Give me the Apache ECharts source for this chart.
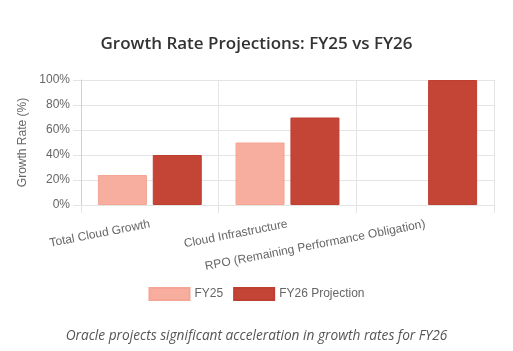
<!DOCTYPE html>
<html>
<head>
<meta charset="utf-8">
<script src="https://cdn.jsdelivr.net/npm/echarts@6/dist/echarts.min.js"></script>
<style>
	html, body { margin: 0; padding: 0; background: #fff; }
	#chart { width: 513px; height: 351px; }
</style>
</head>
<body>
<div id="chart"></div>
<script>
	// data
	var categories = ['Total Cloud Growth', 'Cloud Infrastructure', 'RPO (Remaining Performance Obligation)'];
	var fy25 = [24, 50, null];
	var fy26 = [40, 70, 100];
	var seriesNames = ['FY25', 'FY26 Projection'];

	var chart = echarts.init(document.getElementById('chart'));
	var gridColor = '#e4e4e4';
	var textColor = '#666';

	chart.setOption({
		animation: false,
		backgroundColor: '#fff',
		title: [{
			text: 'Growth Rate Projections: FY25 vs FY26',
			left: 'center',
			top: 31,
			textStyle: { fontFamily: 'Open Sans', fontSize: 17, fontWeight: 600, color: '#333' }
		}, {
			text: 'Oracle projects significant acceleration in growth rates for FY26',
			left: 'center',
			top: 324,
			textStyle: { fontFamily: 'Open Sans', fontSize: 13.7, fontStyle: 'italic', fontWeight: 'normal', color: '#555' }
		}],
		legend: {
			data: seriesNames,
			top: 282,
			left: 'center',
			itemWidth: 40,
			itemHeight: 12,
			itemGap: 10,
			icon: 'rect',
			textStyle: { fontFamily: 'Liberation Sans', fontSize: 12, color: textColor }
		},
		grid: { left: 81, right: 19, top: 80, bottom: 146 },
		xAxis: {
			type: 'category',
			data: categories,
			axisLine: { lineStyle: { color: gridColor } },
			axisTick: { show: true, length: 8, lineStyle: { color: gridColor } },
			splitLine: { show: true, lineStyle: { color: gridColor } },
			axisLabel: {
				interval: 0,
				rotate: 11,
				margin: 19,
				fontFamily: 'Liberation Sans',
				fontSize: 12,
				color: textColor
			}
		},
		yAxis: {
			type: 'value',
			min: 0,
			max: 100,
			interval: 20,
			name: 'Growth Rate (%)',
			nameLocation: 'middle',
			nameGap: 42,
			nameTextStyle: { fontFamily: 'Liberation Sans', fontSize: 12, color: textColor },
			axisLine: { show: true, lineStyle: { color: '#d0d0d0' } },
			axisTick: { show: true, length: 8, lineStyle: { color: gridColor } },
			splitLine: { lineStyle: { color: gridColor } },
			axisLabel: {
				formatter: '{value}%',
				margin: 11,
				fontFamily: 'Liberation Sans',
				fontSize: 12,
				color: textColor
			}
		},
		series: [{
			name: seriesNames[0],
			type: 'bar',
			data: fy25,
			barWidth: 49,
			barGap: '12%',
			itemStyle: { color: '#F7AE9E', borderColor: '#F4A593', borderWidth: 1 }
		}, {
			name: seriesNames[1],
			type: 'bar',
			data: fy26,
			barWidth: 49,
			itemStyle: { color: '#C44536', borderColor: '#BE3F31', borderWidth: 1 }
		}]
	});
</script>
</body>
</html>
